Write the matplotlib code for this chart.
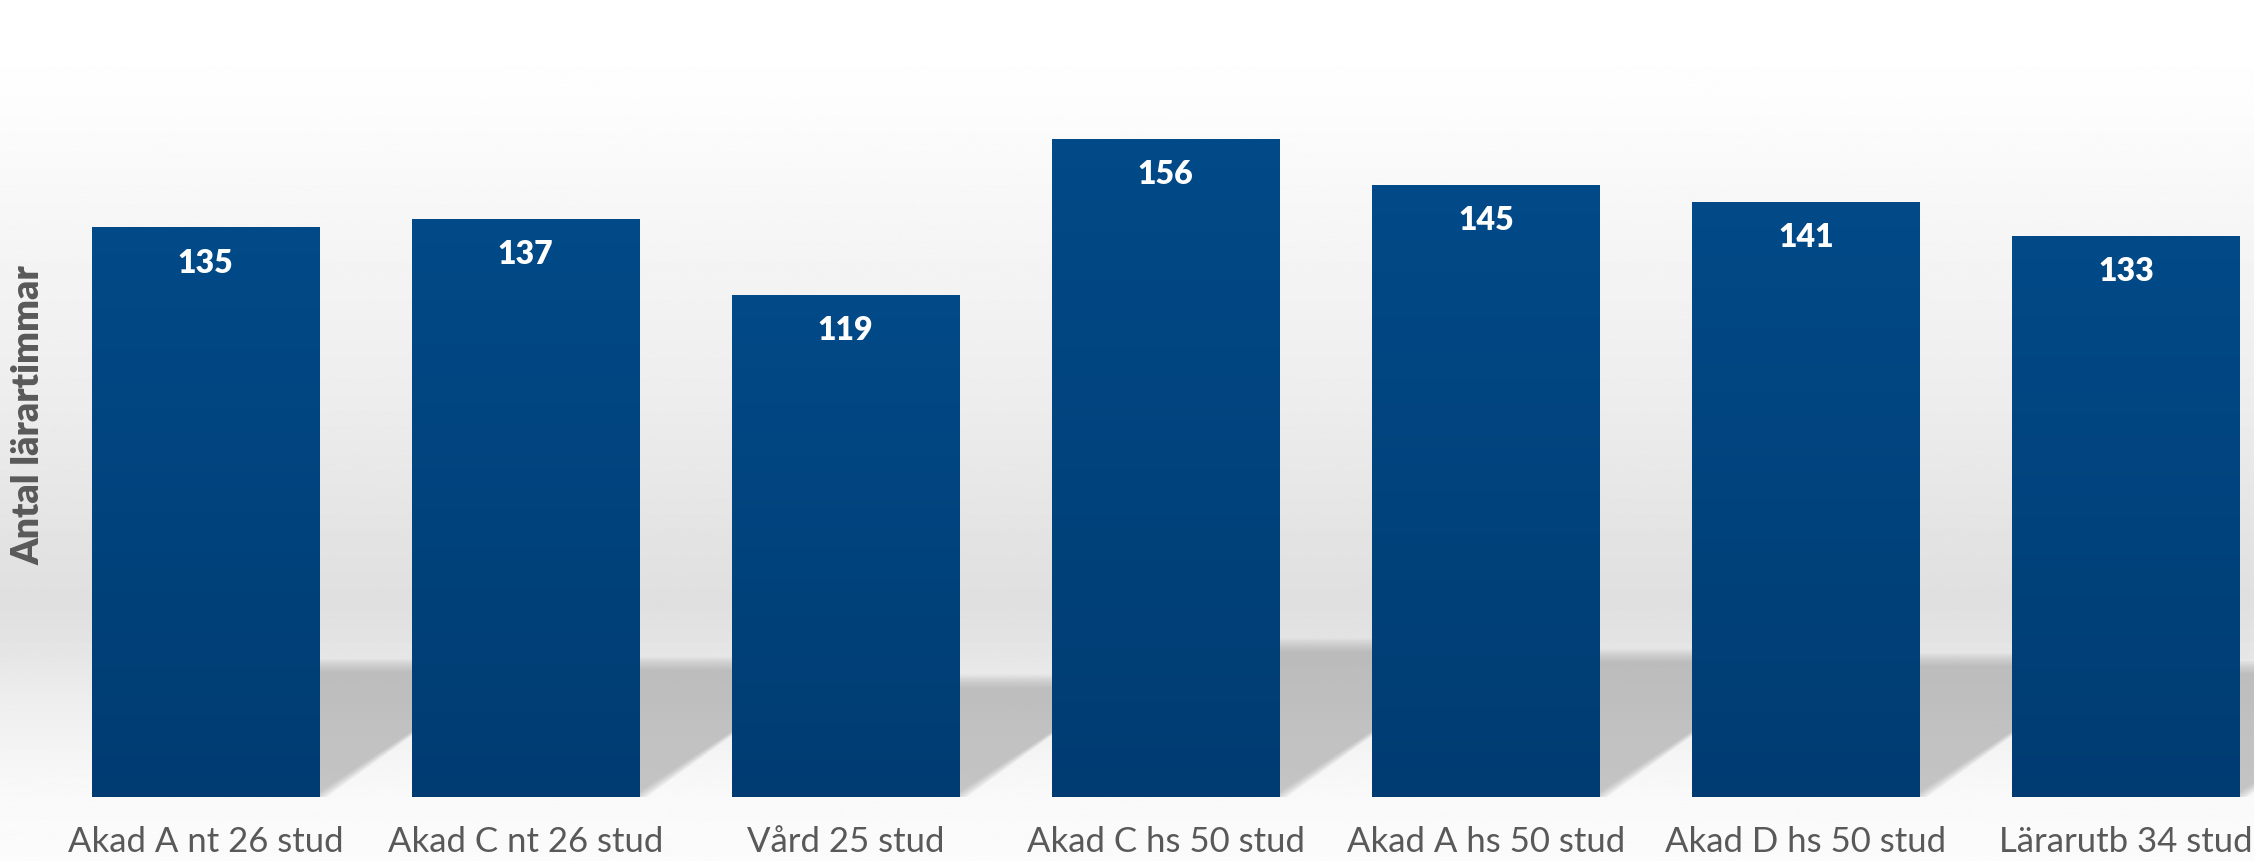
import numpy as np
import matplotlib
matplotlib.use("Agg")
import matplotlib.pyplot as plt
from matplotlib.patches import Polygon
from matplotlib.colors import LinearSegmentedColormap

plt.rcParams['font.family'] = ['Lato', 'DejaVu Sans']

# data
categories = ["Akad A nt 26 stud", "Akad C nt 26 stud", "Vård 25 stud",
              "Akad C hs 50 stud", "Akad A hs 50 stud", "Akad D hs 50 stud",
              "Lärarutb 34 stud"]
hours = [135, 137, 119, 156, 145, 141, 133]
y_label = "Antal lärartimmar"

fig = plt.figure(figsize=(22.54, 8.62), dpi=100)

# background gradient (white at top, grey band, light floor)
bg = fig.add_axes([0, 0, 1, 1], zorder=0)
ys = np.linspace(0, 1, 600)  # 0 = top, 1 = bottom
stops_y = [0.0, 0.10, 0.23, 0.46, 0.70, 0.76, 0.81, 0.88, 0.93, 1.0]
stops_c = [1.0, 0.995, 0.97, 0.93, 0.875, 0.90, 0.93, 0.96, 0.978, 0.985]
col = np.interp(ys, stops_y, stops_c)
bg.imshow(np.repeat(col[:, None], 2, axis=1), cmap="gray", vmin=0, vmax=1,
          aspect="auto", extent=[0, 1, 0, 1])
bg.set_xlim(0, 1)
bg.set_ylim(0, 1)
bg.axis("off")

ax = fig.add_axes([0.0202, 0.0742, 0.9798, 0.9258], zorder=1)
ax.patch.set_alpha(0)

x = np.arange(len(categories))
width = 0.71
ax.set_xlim(-0.5, 6.4)
ax.set_ylim(0, 189.1)

# pixel scale, used to give the soft shadows their slant
px_x = 0.9798 * 2254 / 6.9
px_y = 0.9258 * 862 / 189.1
k = 0.231      # shadow height relative to bar
slope = 0.69   # dy/dx of the shadow side, in pixels
n_layers = 9
for xi, v in zip(x, hours):
    sh = k * v
    dx = sh * px_y / slope / px_x
    for i in range(n_layers):
        g = (i - (n_layers - 1) / 2) * 1.6   # pixels of grow/shrink
        gx = g / px_x
        gy = g / px_y
        poly = Polygon([(xi - width / 2, 0),
                        (xi + width / 2 + gx * 1.2, 0),
                        (xi + width / 2 + dx + gx * 1.2, sh + gy),
                        (xi - width / 2 + dx, sh + gy)],
                       closed=True, facecolor="#9a9a9a", edgecolor="none",
                       alpha=0.08, zorder=1)
        ax.add_patch(poly)

# bars with a slight vertical gradient
grad = np.linspace(0, 1, 256)[:, None]
cmap = LinearSegmentedColormap.from_list("bar", ["#003c72", "#024a88"])
bars = ax.bar(x, hours, width=width, color="#01457f", zorder=2)
for b in bars:
    x0, w, h = b.get_x(), b.get_width(), b.get_height()
    im = ax.imshow(grad, cmap=cmap, aspect="auto", origin="lower",
                   extent=[x0, x0 + w, 0, h], zorder=3)
    im.set_clip_path(b)

for xi, v in zip(x, hours):
    ax.annotate(str(v), (xi, v), xytext=(0, -25), textcoords="offset points",
                ha="center", va="center", color="white", fontsize=23,
                fontweight="heavy", zorder=4)

ax.set_xticks(x)
ax.set_xticklabels(categories, fontsize=25, color="#595959")
ax.tick_params(axis="x", length=0, pad=20)
ax.set_yticks([])
for s in ax.spines.values():
    s.set_visible(False)

fig.text(0.0125, 0.518, y_label, rotation=90, ha="center", va="center",
         fontsize=27, fontweight="heavy", color="#595959")

fig.savefig("out.png", dpi=100)
